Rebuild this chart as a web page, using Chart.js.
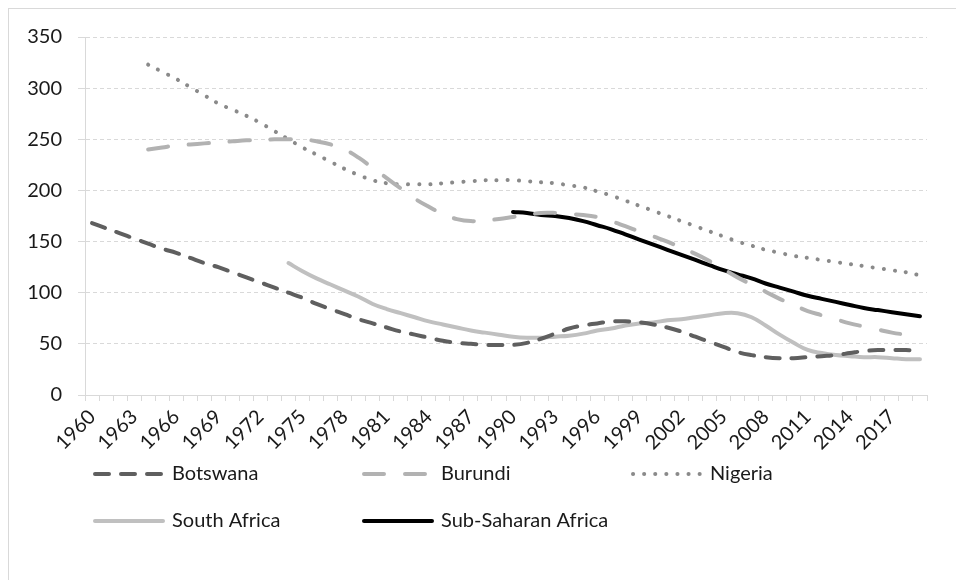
<!DOCTYPE html>
<html>
<head>
<meta charset="utf-8">
<script src="https://cdn.jsdelivr.net/npm/chart.js@4/dist/chart.umd.min.js"></script>
<style>
  html, body { margin: 0; padding: 0; background: #fff; overflow: hidden; }
  #frame { position: absolute; left: 8px; top: 8px; width: 1000px; height: 700px; border: 1px solid #d9d9d9; }
  #chart { position: absolute; left: 0; top: 0; }
</style>
</head>
<body>
<div id="frame"></div>
<canvas id="chart" width="956" height="580"></canvas>
<script>
const years = ['1960','1961','1962','1963','1964','1965','1966','1967','1968','1969',
  '1970','1971','1972','1973','1974','1975','1976','1977','1978','1979',
  '1980','1981','1982','1983','1984','1985','1986','1987','1988','1989',
  '1990','1991','1992','1993','1994','1995','1996','1997','1998','1999',
  '2000','2001','2002','2003','2004','2005','2006','2007','2008','2009',
  '2010','2011','2012','2013','2014','2015','2016','2017','2018','2019'];

const botswana = [168,163,158,153,148,143,139,134,129,125,
  120,115,110,105,100,95,89,84,79,74,
  70,66,62,59,56,53,51,50,49,49,
  49,51,55,60,65,68,70,72,72,71,
  69,66,62,57,52,47,42,39,37,36,
  36,37,38,39,41,43,44,44,44,43];

const burundi = [null,null,null,null,240,242,244,245,246,247,
  248,249,249,250,250,250,248,245,240,232,
  222,212,202,192,184,177,172,170,171,172,
  174,176,178,178,177,176,174,170,165,160,
  155,150,144,138,131,123,115,108,101,94,
  88,82,78,74,70,67,64,61,59,57];

const nigeria = [null,null,null,null,323,316,309,301,293,285,
  279,273,266,258,250,242,235,228,221,215,
  210,207,206,206,206,207,208,209,210,210,
  210,209,208,207,205,203,199,195,190,185,
  180,175,170,165,160,155,150,146,142,139,
  136,134,132,130,128,126,124,122,120,117];

const southAfrica = [null,null,null,null,null,null,null,null,null,null,
  null,null,null,null,129,121,114,108,102,96,
  89,84,80,76,72,69,66,63,61,59,
  57,56,56,57,58,60,63,65,68,70,
  71,73,74,76,78,80,80,76,68,59,
  51,44,41,39,38,37,37,36,35,35];

const subSaharan = [null,null,null,null,null,null,null,null,null,null,
  null,null,null,null,null,null,null,null,null,null,
  null,null,null,null,null,null,null,null,null,null,
  179,178,176,175,173,170,166,162,157,152,
  147,142,137,132,127,122,118,114,109,105,
  101,97,94,91,88,85,83,81,79,77];

const seriesNames = ['Botswana', 'Burundi', 'Nigeria', 'South Africa', 'Sub-Saharan Africa'];

const FONT = 'Lato, Carlito, Calibri, sans-serif';
const TEXT = '#1a1a1a';
const GRID = '#d9d9d9';

function line(label, data, color, dash) {
  return {
    label: label,
    data: data,
    borderColor: color,
    backgroundColor: color,
    borderWidth: 4,
    borderDash: dash,
    borderCapStyle: 'round',
    borderJoinStyle: 'round',
    pointRadius: 0,
    tension: 0.4,
    fill: false,
  };
}

// legend drawn as a 3-column grid, like the Excel one
const gridLegend = {
  id: 'gridLegend',
  afterDraw(chart) {
    const ctx = chart.ctx;
    const cols = [93, 362, 631];
    const rows = [474, 521];
    chart.data.datasets.forEach((ds, i) => {
      const x0 = cols[i % 3];
      const y = rows[Math.floor(i / 3)];
      ctx.save();
      ctx.strokeStyle = ds.borderColor;
      ctx.lineWidth = ds.borderWidth;
      ctx.lineCap = 'round';
      ctx.setLineDash(ds.borderDash || []);
      ctx.beginPath();
      ctx.moveTo(x0 + 2, y);
      ctx.lineTo(x0 + 70, y);
      ctx.stroke();
      ctx.setLineDash([]);
      ctx.fillStyle = TEXT;
      ctx.font = '20px ' + FONT;
      ctx.textBaseline = 'middle';
      ctx.textAlign = 'left';
      ctx.fillText(ds.label, x0 + 79, y);
      ctx.restore();
    });
  }
};

const ctx = document.getElementById('chart').getContext('2d');
new Chart(ctx, {
  type: 'line',
  data: {
    labels: years,
    datasets: [
      line(seriesNames[0], botswana, '#5f5f5f', [14, 12]),
      line(seriesNames[1], burundi, '#b2b2b2', [20, 21]),
      line(seriesNames[2], nigeria, '#8a8a8a', [0.1, 11]),
      line(seriesNames[3], southAfrica, '#c0c0c0', []),
      line(seriesNames[4], subSaharan, '#000000', []),
    ],
  },
  options: {
    responsive: false,
    devicePixelRatio: 1,
    animation: false,
    layout: { padding: { top: 37, right: 29, left: 0, bottom: 0 } },
    plugins: {
      legend: { display: false },
      tooltip: { enabled: false },
    },
    scales: {
      x: {
        offset: true,
        afterFit: (scale) => { scale.height = 185; },
        grid: {
          offset: true,
          drawOnChartArea: false,
          drawTicks: true,
          tickLength: 6,
          color: GRID,
          tickColor: GRID,
        },
        border: { color: GRID, width: 1 },
        ticks: {
          autoSkip: false,
          minRotation: 45,
          maxRotation: 45,
          padding: 4,
          color: TEXT,
          font: { family: FONT, size: 20 },
          callback: (val, idx) => (idx % 3 === 0 ? years[idx] : ''),
        },
      },
      y: {
        min: 0,
        max: 350,
        afterFit: (scale) => { scale.width = 85; },
        grid: {
          color: GRID,
          lineWidth: 1,
          drawTicks: true,
          tickLength: 7,
          tickColor: GRID,
        },
        border: { color: GRID, width: 1, dash: [4, 3] },
        ticks: {
          stepSize: 50,
          padding: 16,
          color: TEXT,
          font: { family: FONT, size: 20 },
        },
      },
    },
  },
  plugins: [gridLegend],
});
</script>
</body>
</html>
